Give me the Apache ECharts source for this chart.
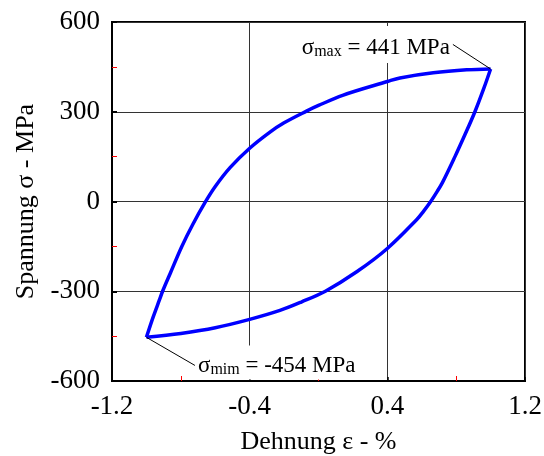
<!DOCTYPE html>
<html>
<head>
<meta charset="utf-8">
<script src="https://cdn.jsdelivr.net/npm/echarts@6/dist/echarts.min.js"></script>
<style>html,body{margin:0;padding:0;background:#fff;}#c{width:544px;height:456px;}</style>
</head>
<body>
<div id="c"></div>
<script>
// Loading branch (from sigma_min up to sigma_max)
const upperStrain = [-1.0, -0.96, -0.925, -0.906, -0.86, -0.795, -0.73, -0.66, -0.6, -0.514, -0.4, -0.282, -0.2, -0.07, 0.0, 0.14, 0.4, 0.473, 0.667, 0.861, 1.0];
const upperStress = [-454, -385, -330, -300, -238, -151, -76, -4, 50, 113, 178, 232, 263, 302, 321, 355, 401, 413, 430, 440, 443];
// Unloading branch (from sigma_max down to sigma_min)
const lowerStrain = [1.0, 0.96, 0.909, 0.85, 0.793, 0.72, 0.69, 0.652, 0.61, 0.57, 0.4, 0.222, 0.04, -0.1, -0.224, -0.4, -0.6, -0.8, -1.0];
const lowerStress = [443, 377, 300, 222, 150, 63, 34, 0, -33, -61, -157, -235, -300, -336, -364, -394, -422, -441, -454];
// Annotations: [label anchor, curve point]
const maxLeader = [[0.781, 525], [1.0, 443]];
const minLeader = [[-0.718, -548], [-1.0, -454]];
const maxText = ['σ', 'max', ' = 441 MPa'];
const minText = ['σ', 'mim', ' = -454 MPa'];
const xTicks = {min: -1.2, max: 1.2, interval: 0.8};
const yTicks = {min: -600, max: 600, interval: 300};

const FONT = "'Liberation Serif','Times New Roman',serif";
const zip = (a, b) => a.map((v, i) => [v, b[i]]);

const rich = {
  s: {fontFamily: FONT, fontSize: 23, color: '#000', lineHeight: 26, verticalAlign: 'bottom'},
  sub: {fontFamily: FONT, fontSize: 16, color: '#000', lineHeight: 16, verticalAlign: 'bottom'},
  t: {fontFamily: FONT, fontSize: 23, color: '#000', lineHeight: 26, verticalAlign: 'bottom'}
};
function annot(pts, txt, pos, pad, off) {
  return {
    type: 'line', data: [
      {value: pts[0], label: {
        show: true, position: pos, distance: 1, offset: off,
        formatter: '{s|' + txt[0] + '}{sub|' + txt[1] + '}{t|' + txt[2] + '}',
        rich: rich, backgroundColor: '#fff', padding: pad
      }},
      pts[1]
    ],
    symbol: 'circle', symbolSize: 0.1, showSymbol: true,
    lineStyle: {color: '#000', width: 1}, itemStyle: {color: '#000'},
    z: 5, silent: true, animation: false
  };
}

const chart = echarts.init(document.getElementById('c'));
chart.setOption({
  animation: false,
  backgroundColor: '#fff',
  grid: {left: 112, right: 19, top: 22, bottom: 75, show: true, borderColor: '#000', borderWidth: 2,
         backgroundColor: 'transparent', containLabel: false, outerBoundsMode: 'none'},
  xAxis: {
    type: 'value', min: xTicks.min, max: xTicks.max, interval: xTicks.interval,
    name: 'Dehnung ε - %', nameLocation: 'middle', nameGap: 48,
    nameTextStyle: {fontFamily: FONT, fontSize: 26, color: '#000'},
    axisLine: {onZero: false, lineStyle: {color: '#000', width: 2}},
    axisTick: {inside: true, length: 4, lineStyle: {color: '#000', width: 1.5}},
    minorTick: {show: true, splitNumber: 2, length: 5, lineStyle: {color: '#ff0000', width: 1}},
    axisLabel: {fontFamily: FONT, fontSize: 27, color: '#000', margin: 12, formatter: v => (Math.round(v * 10) / 10).toFixed(1)},
    splitLine: {show: true, lineStyle: {color: '#333', width: 1}}
  },
  yAxis: {
    type: 'value', min: yTicks.min, max: yTicks.max, interval: yTicks.interval,
    name: 'Spannung σ - MPa', nameLocation: 'middle', nameGap: 72,
    nameTextStyle: {fontFamily: FONT, fontSize: 26, color: '#000'},
    axisLine: {onZero: false, lineStyle: {color: '#000', width: 2}},
    axisTick: {inside: true, length: 5, lineStyle: {color: '#000', width: 2}},
    minorTick: {show: true, splitNumber: 2, length: 5, lineStyle: {color: '#ff0000', width: 1}},
    axisLabel: {fontFamily: FONT, fontSize: 27, color: '#000', margin: 12},
    splitLine: {show: true, lineStyle: {color: '#333', width: 1}}
  },
  series: [
    {type: 'line', data: zip(upperStrain, upperStress), smooth: 0.35, symbol: 'none',
     lineStyle: {color: '#0000ff', width: 3.5}, z: 3},
    {type: 'line', data: zip(lowerStrain, lowerStress), smooth: 0.35, symbol: 'none',
     lineStyle: {color: '#0000ff', width: 3.5}, z: 3},
    annot(maxLeader, maxText, 'left', [8, 2, 3, 2], [0, 0]),
    annot(minLeader, minText, 'right', [6, 2, 2, 2], [0, -3])
  ]
});
</script>
</body>
</html>
